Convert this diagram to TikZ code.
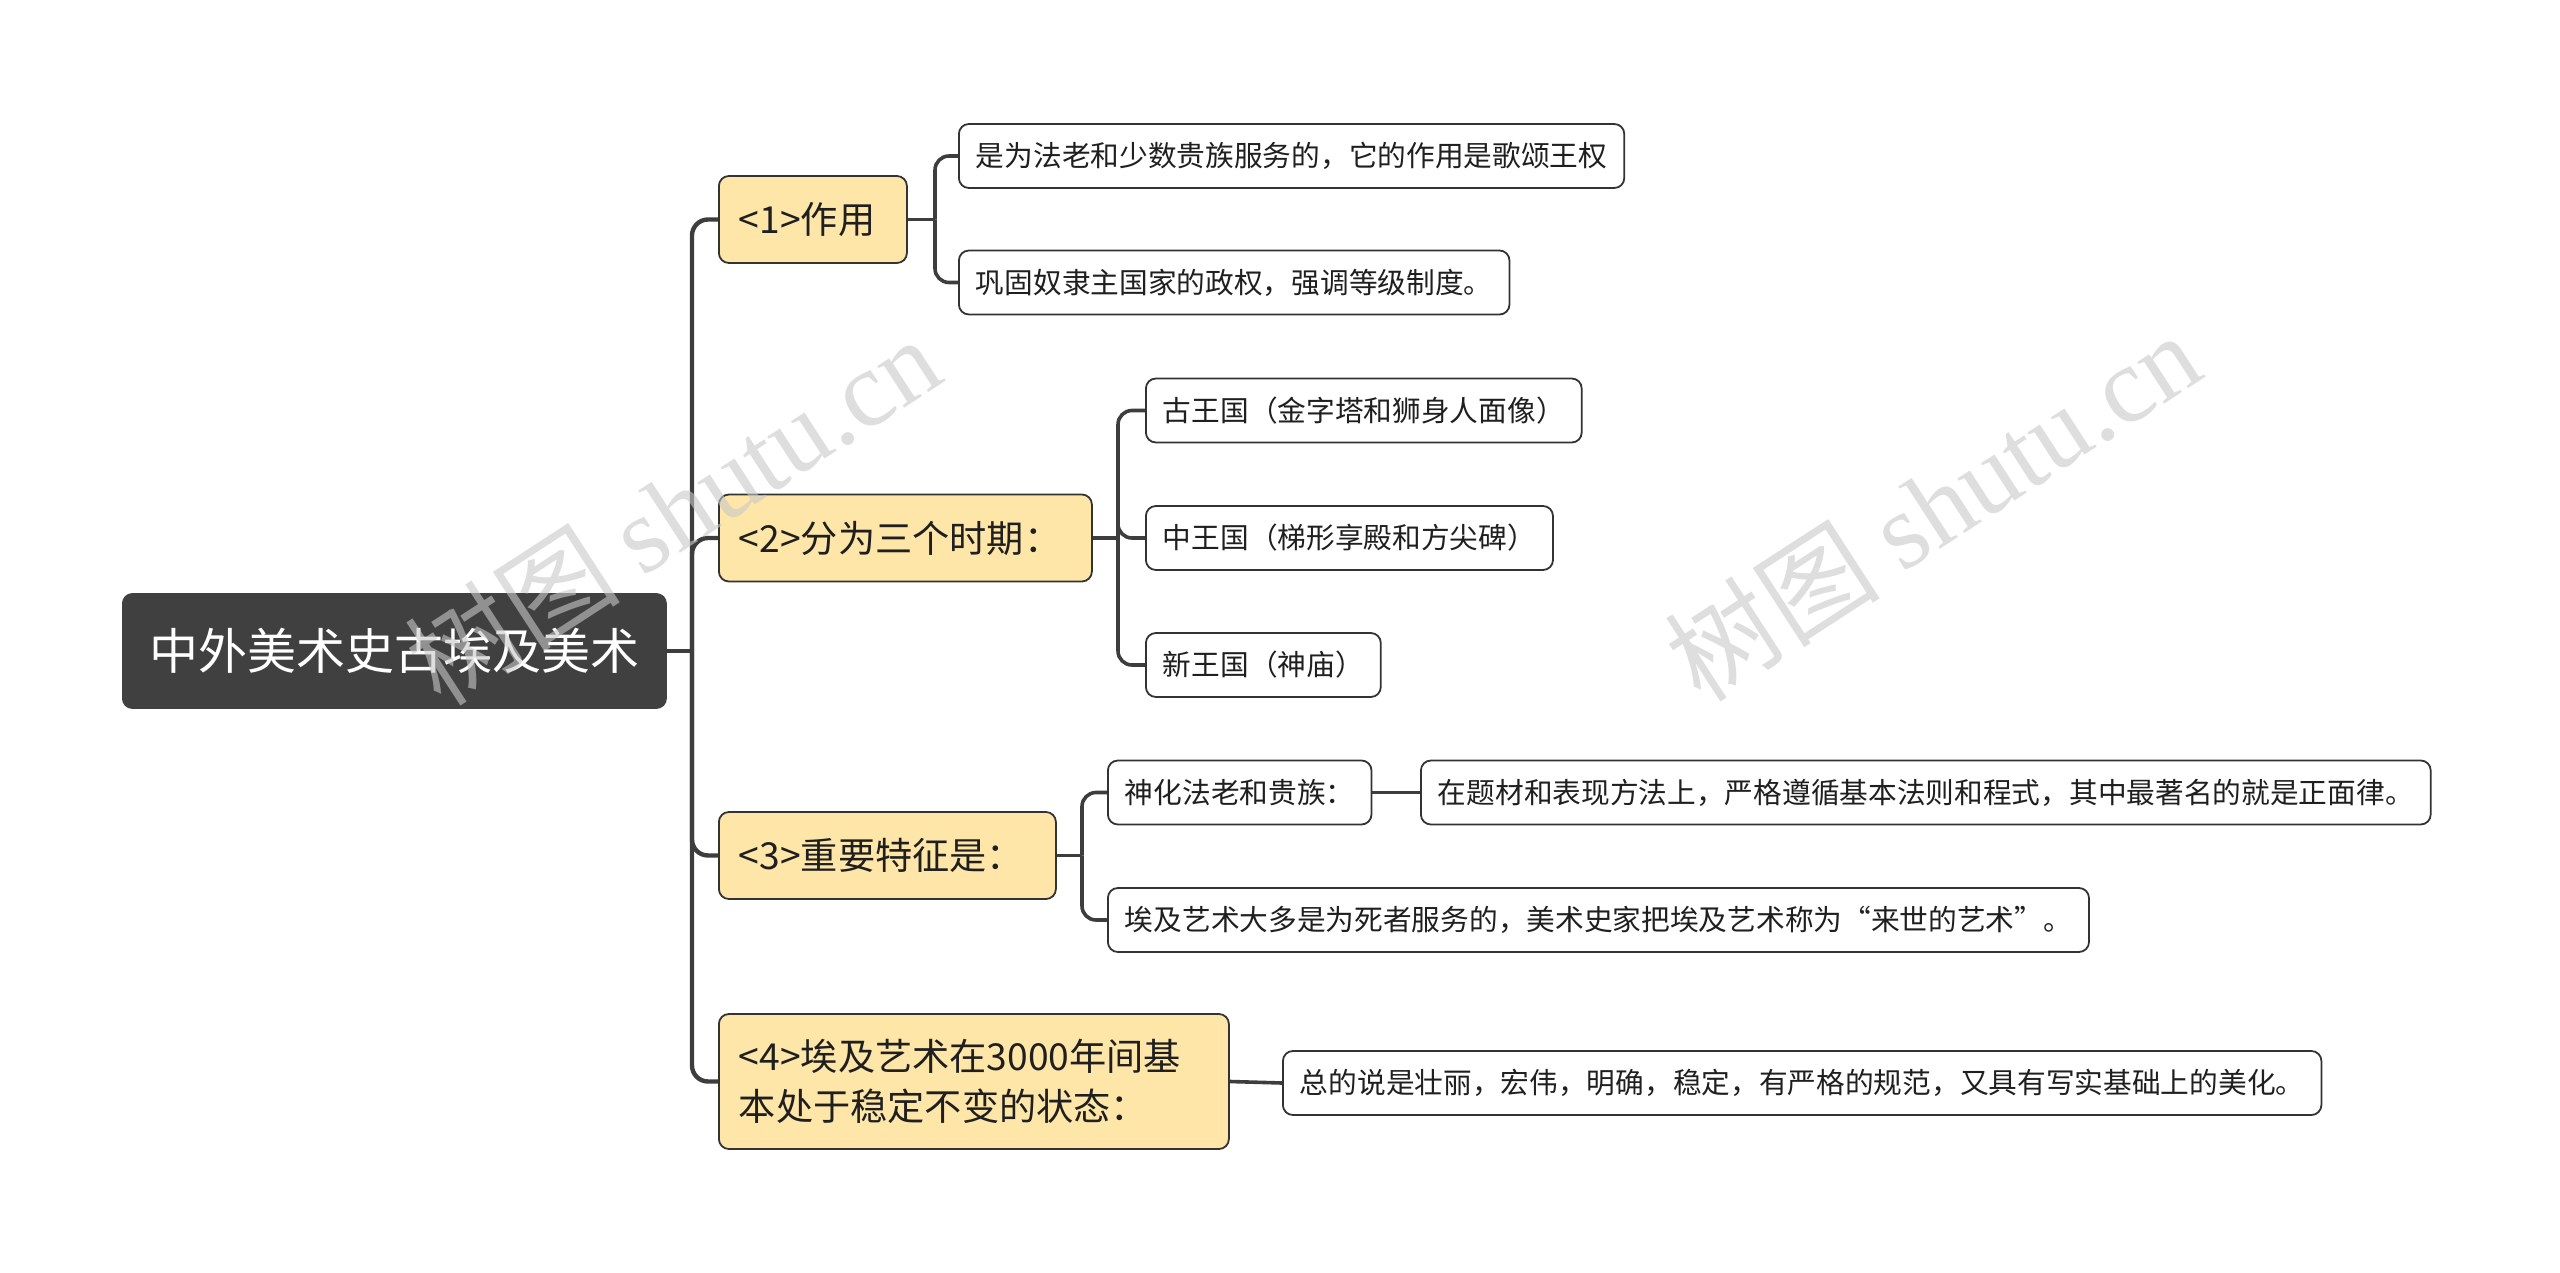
\documentclass[tikz,border=0pt]{standalone}
\usepackage{fontspec}
\setmainfont{Noto Sans CJK SC}
\newfontfamily\wmlatin{Liberation Serif}
\newfontfamily\wmcjk{Noto Sans CJK SC}
\definecolor{rootfill}{HTML}{404040}
\definecolor{yfill}{HTML}{FEE6A9}
\definecolor{edge}{HTML}{333333}
\definecolor{txt}{HTML}{1F1F1F}
\definecolor{wm}{HTML}{C8C8C8}
\tikzset{
  rootbox/.style={draw=rootfill, fill=rootfill, rounded corners=5pt, text=white,
    minimum width=272pt, minimum height=57.5pt, inner sep=0pt, anchor=west,
    font=\fontsize{24.5}{30}\selectfont},
  lvlbox/.style={draw=edge, fill=yfill, line width=0.9pt, rounded corners=5pt, text=txt,
    minimum height=43.5pt, inner xsep=10pt, inner ysep=0pt, anchor=west, align=left,
    font=\fontsize{18.6}{23}\selectfont},
  leafbox/.style={draw=edge, fill=white, line width=0.9pt, rounded corners=5pt, text=txt,
    minimum height=32pt, inner xsep=8.5pt, inner ysep=0pt, anchor=west,
    font=\fontsize{14.35}{17}\selectfont},
  mainline/.style={draw=edge!95!white, line width=2.2pt, rounded corners=8pt},
  subline/.style={draw=edge!95!white, line width=1.8pt, rounded corners=7pt},
  wmark/.style={text=wm, opacity=0.6, rotate=33, font=\fontsize{54}{60}\selectfont}
}
\begin{document}
\begin{tikzpicture}[x=0.5pt,y=-0.5pt]
\useasboundingbox (0,0) rectangle (2560,1273);
% nodes
\node[rootbox] (root) at (122,651) {中外美术史古埃及美术};
\node[lvlbox, text width=74pt] (n1) at (718,219.5) {<1>作用};
\node[lvlbox, text width=166.5pt] (n2) at (718,538) {<2>分为三个时期：};
\node[lvlbox, text width=148.5pt] (n3) at (718,855.5) {<3>重要特征是：};
\node[lvlbox, text width=235pt, minimum height=67.5pt, font=\fontsize{18.6}{25}\selectfont] (n4) at (718,1081.5) {<4>埃及艺术在3000年间基\\本处于稳定不变的状态：};
\node[leafbox] (c11) at (958,156) {是为法老和少数贵族服务的，它的作用是歌颂王权};
\node[leafbox] (c12) at (958,282.5) {巩固奴隶主国家的政权，强调等级制度。};
\node[leafbox] (c21) at (1145,410.5) {古王国（金字塔和狮身人面像）};
\node[leafbox] (c22) at (1145,538) {中王国（梯形享殿和方尖碑）};
\node[leafbox] (c23) at (1145,665) {新王国（神庙）};
\node[leafbox] (c31) at (1107,792.5) {神化法老和贵族：};
\node[leafbox] (c311) at (1420,792.5) {在题材和表现方法上，严格遵循基本法则和程式，其中最著名的就是正面律。};
\node[leafbox] (c32) at (1107,920) {埃及艺术大多是为死者服务的，美术史家把埃及艺术称为“来世的艺术”。};
\node[leafbox] (c41) at (1282,1083) {总的说是壮丽，宏伟，明确，稳定，有严格的规范，又具有写实基础上的美化。};
% connectors
\coordinate (sp0) at (692,651);
\draw[mainline] (root.east) -- (sp0);
\foreach \n in {n1,n2,n3,n4} { \draw[mainline] (sp0) |- (\n.west); }
\coordinate (sp1) at (935,219.5);
\draw[subline] (n1.east) -- (sp1);
\foreach \n in {c11,c12} { \draw[subline] (sp1) |- (\n.west); }
\coordinate (sp2) at (1118,538);
\draw[subline] (n2.east) -- (sp2);
\foreach \n in {c21,c22,c23} { \draw[subline] (sp2) |- (\n.west); }
\coordinate (sp3) at (1082,855.5);
\draw[subline] (n3.east) -- (sp3);
\foreach \n in {c31,c32} { \draw[subline] (sp3) |- (\n.west); }
\draw[subline] (c31.east) -- (c311.west);
\draw[subline] (n4.east) -- (c41.west);
% watermarks
\node[wmark] (wm1) at (672,510) {{\wmcjk 树图} {\wmlatin shutu.cn}};
\node[wmark] (wm2) at (1932,506) {{\wmcjk 树图} {\wmlatin shutu.cn}};
\end{tikzpicture}
\end{document}
